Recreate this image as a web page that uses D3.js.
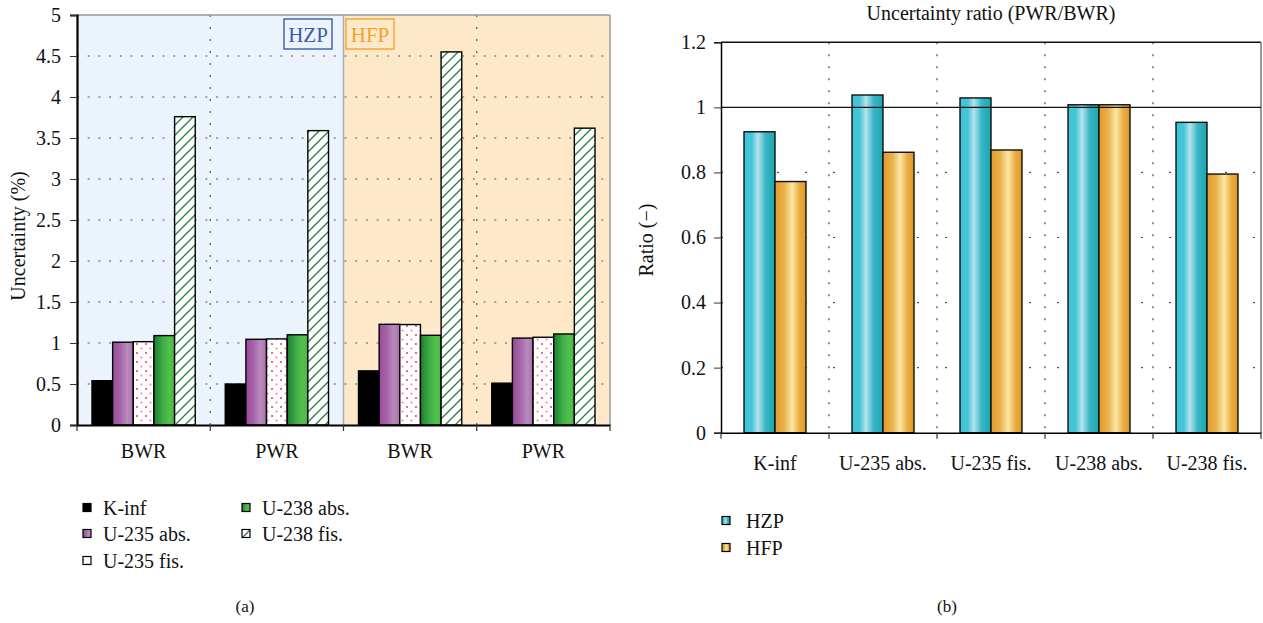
<!DOCTYPE html>
<html><head><meta charset="utf-8">
<script src="https://cdn.jsdelivr.net/npm/d3@7"></script>
<style>
html,body{margin:0;padding:0;background:#fff;}
svg text{font-family:"Liberation Serif","DejaVu Serif",serif;fill:#111;}
</style></head>
<body>
<svg id="c" width="1263" height="623"></svg>
<script>
// ---------- data ----------
const leftGroups = ["BWR", "PWR", "BWR", "PWR"];
const leftStates = ["HZP", "HZP", "HFP", "HFP"];
const leftSeries = ["K-inf", "U-235 abs.", "U-235 fis.", "U-238 abs.", "U-238 fis."];
const kinf    = [0.54, 0.50, 0.66, 0.51];
const u235abs = [1.01, 1.045, 1.228, 1.06];
const u235fis = [1.016, 1.05, 1.225, 1.07];
const u238abs = [1.09, 1.10, 1.094, 1.11];
const u238fis = [3.76, 3.59, 4.55, 3.62];
const leftTicks = [0, 0.5, 1, 1.5, 2, 2.5, 3, 3.5, 4, 4.5, 5];

const ratioCats = ["K-inf", "U-235 abs.", "U-235 fis.", "U-238 abs.", "U-238 fis."];
const ratioSeries = ["HZP", "HFP"];
const hzp = [0.925, 1.038, 1.029, 1.008, 0.954];
const hfp = [0.772, 0.862, 0.869, 1.008, 0.795];
const rightTicks = [0, 0.2, 0.4, 0.6, 0.8, 1, 1.2];

// ---------- setup ----------
const FS = 20;
const svg = d3.select("#c");
const defs = svg.append("defs");
function grad(id, stops){
  const g = defs.append("linearGradient").attr("id", id).attr("x1","0").attr("x2","1").attr("y1","0").attr("y2","0");
  stops.forEach(s => g.append("stop").attr("offset", s[0]).attr("stop-color", s[1]));
}
grad("gPurple", [[0,"#994a9b"],[0.35,"#a463a6"],[0.72,"#b98bbd"],[1,"#a86fab"]]);
grad("gGreen", [[0,"#1d7f33"],[0.45,"#3fae45"],[0.75,"#53c04c"],[1,"#4ab848"]]);
grad("gCyan", [[0,"#3ec3d6"],[0.25,"#45c6d8"],[0.45,"#b5e3ec"],[0.7,"#35b6c6"],[1,"#1ea4b0"]]);
grad("gOrange", [[0,"#e0992a"],[0.3,"#eab24a"],[0.55,"#fbe7a6"],[0.8,"#e8aa3c"],[1,"#de9a2c"]]);
// dots
const pd = defs.append("pattern").attr("id","pDots").attr("patternUnits","userSpaceOnUse").attr("width",9).attr("height",9);
pd.append("rect").attr("width",9).attr("height",9).attr("fill","#fff");
pd.append("rect").attr("x",1).attr("y",1).attr("width",2).attr("height",2).attr("fill","#ef6a8c");
pd.append("rect").attr("x",5.5).attr("y",5.5).attr("width",2).attr("height",2).attr("fill","#f39ab2");
// hatch
const ph = defs.append("pattern").attr("id","pHatch").attr("patternUnits","userSpaceOnUse").attr("width",10).attr("height",10);
ph.append("rect").attr("width",10).attr("height",10).attr("fill","#fff");
ph.append("path").attr("d","M-2,12 L12,-2 M-2,2 L2,-2 M8,12 L12,8").attr("stroke","#2a7a43").attr("stroke-width",1.3);

const leftFills = ["#000", "url(#gPurple)", "url(#pDots)", "url(#gGreen)", "url(#pHatch)"];
const rightFills = ["url(#gCyan)", "url(#gOrange)"];

// ---------- left chart ----------
const L = {x0:77, x1:610, yT:15, yB:425};
const xL = d3.scaleBand().domain(d3.range(leftGroups.length)).range([L.x0, L.x1]);
const xLi = d3.scaleBand().domain(leftSeries).range([15, xL.bandwidth()-15]);
const yL = d3.scaleLinear().domain([0,5]).range([L.yB, L.yT]);
const gl = svg.append("g");

// backgrounds
gl.append("rect").attr("x", xL(0)).attr("y", L.yT).attr("width", xL(2)-xL(0)).attr("height", L.yB-L.yT).attr("fill","#ebf4fc");
gl.append("rect").attr("x", xL(2)).attr("y", L.yT).attr("width", L.x1-xL(2)).attr("height", L.yB-L.yT).attr("fill","#fde9c9");
// grid
gl.selectAll("line.hg").data(leftTicks.slice(1,-1)).join("line")
  .attr("x1", L.x0).attr("x2", L.x1).attr("y1", d=>yL(d)).attr("y2", d=>yL(d))
  .attr("stroke","#555").attr("stroke-width",1.2).attr("stroke-dasharray","2,8.7");
gl.selectAll("line.vg").data([1,3]).join("line")
  .attr("x1", d=>xL(d)).attr("x2", d=>xL(d)).attr("y1", L.yT).attr("y2", L.yB)
  .attr("stroke","#555").attr("stroke-width",1.2).attr("stroke-dasharray","2,10");
gl.append("line").attr("x1", xL(2)).attr("x2", xL(2)).attr("y1", L.yT).attr("y2", L.yB).attr("stroke","#a7adb4").attr("stroke-width",1.5);
gl.append("line").attr("x1", L.x0).attr("x2", L.x1).attr("y1", L.yT).attr("y2", L.yT).attr("stroke","#999").attr("stroke-width",1.5);
gl.append("line").attr("x1", L.x1).attr("x2", L.x1).attr("y1", L.yT).attr("y2", L.yB).attr("stroke","#999").attr("stroke-width",1.5);

// bars
const leftVals = [kinf, u235abs, u235fis, u238abs, u238fis];
leftGroups.forEach((g, gi) => {
  leftSeries.forEach((s, si) => {
    const v = leftVals[si][gi];
    gl.append("rect")
      .attr("x", xL(gi) + xLi(s)).attr("y", yL(v))
      .attr("width", xLi.bandwidth()).attr("height", yL(0) - yL(v))
      .attr("fill", leftFills[si]).attr("stroke","#000").attr("stroke-width",1.4);
  });
});

// axes
const yAxL = gl.append("g").attr("transform", `translate(${L.x0},0)`)
  .call(d3.axisLeft(yL).tickValues(leftTicks).tickFormat(d3.format("~g")).tickSize(7).tickPadding(9));
yAxL.select(".domain").attr("stroke","#000").attr("stroke-width",2.2);
yAxL.selectAll(".tick line").attr("stroke","#333").attr("stroke-width",1);
yAxL.selectAll(".tick text").attr("font-size",FS).attr("font-family","Liberation Serif");
const xAxL = gl.append("g").attr("transform", `translate(0,${L.yB})`)
  .call(d3.axisBottom(xL).tickValues([]).tickSizeOuter(0));
xAxL.select(".domain").attr("stroke","#000").attr("stroke-width",2.2);
gl.selectAll("line.xt").data(d3.range(leftGroups.length+1)).join("line")
  .attr("x1", d => d<leftGroups.length ? xL(d) : L.x1).attr("x2", d => d<leftGroups.length ? xL(d) : L.x1)
  .attr("y1", L.yB).attr("y2", L.yB+6).attr("stroke","#333").attr("stroke-width",1.2);
gl.selectAll("text.xl").data(leftGroups).join("text")
  .attr("x", (d,i)=>xL(i)+xL.bandwidth()/2).attr("y", 458).attr("text-anchor","middle")
  .attr("font-size",FS).text(d=>d);
gl.append("text").attr("transform","translate(25,236) rotate(-90)").attr("text-anchor","middle")
  .attr("font-size",FS).text("Uncertainty (%)");

// state labels
const boxes = [{t:leftStates[0], x:284, c:"#3d5aa8"}, {t:leftStates[2], x:346, c:"#f4a12c"}];
boxes.forEach(b => {
  gl.append("rect").attr("x", b.x).attr("y", 19).attr("width", 48).attr("height", 30)
    .attr("fill","none").attr("stroke", b.c).attr("stroke-width",1.4);
  gl.append("text").attr("x", b.x+24).attr("y", 41.5).attr("text-anchor","middle")
    .attr("font-size",21).style("fill", b.c).text(b.t);
});

// left legend
const legPos = [[83,508],[83,534],[83,561],[242,508],[242,534]];
leftSeries.forEach((s,i) => {
  const [lx, ly] = legPos[i];
  gl.append("rect").attr("x", lx).attr("y", ly-4.5).attr("width",8).attr("height",8)
    .attr("fill", leftFills[i]).attr("stroke","#000").attr("stroke-width",1.2);
  gl.append("text").attr("x", lx+20).attr("y", ly+6.5).attr("font-size",FS).text(s);
});

// ---------- right chart ----------
const R = {x0:721, x1:1261, yT:42.3, yB:432.7};
const xR = d3.scaleBand().domain(ratioCats).range([R.x0, R.x1]);
const xRi = d3.scaleBand().domain(ratioSeries).range([23, xR.bandwidth()-23]);
const yR = d3.scaleLinear().domain([0,1.2]).range([R.yB, R.yT]);
const gr = svg.append("g");

gr.selectAll("line.hg").data(rightTicks.slice(1,-2)).join("line")
  .attr("x1", R.x0).attr("x2", R.x1).attr("y1", d=>yR(d)).attr("y2", d=>yR(d))
  .attr("stroke","#555").attr("stroke-width",1.2).attr("stroke-dasharray","2,26");
gr.selectAll("line.vg").data(ratioCats.slice(1)).join("line")
  .attr("x1", d=>xR(d)).attr("x2", d=>xR(d)).attr("y1", R.yT).attr("y2", R.yB)
  .attr("stroke","#444").attr("stroke-width",1.2).attr("stroke-dasharray","2,10");
gr.append("line").attr("x1", R.x0).attr("x2", R.x1).attr("y1", R.yT).attr("y2", R.yT).attr("stroke","#111").attr("stroke-width",1.5);
gr.append("line").attr("x1", R.x1).attr("x2", R.x1).attr("y1", R.yT).attr("y2", R.yB).attr("stroke","#777").attr("stroke-width",1.5);

const rightVals = [hzp, hfp];
ratioCats.forEach((c, ci) => {
  ratioSeries.forEach((s, si) => {
    const v = rightVals[si][ci];
    gr.append("rect")
      .attr("x", xR(c) + xRi(s)).attr("y", yR(v))
      .attr("width", xRi.bandwidth()).attr("height", yR(0)-yR(v))
      .attr("fill", rightFills[si]).attr("stroke","#111").attr("stroke-width",1.4);
  });
});
// reference line at 1
gr.append("line").attr("x1", R.x0).attr("x2", R.x1).attr("y1", yR(1)).attr("y2", yR(1)).attr("stroke","#111").attr("stroke-width",1.3);

const yAxR = gr.append("g").attr("transform", `translate(${R.x0},0)`)
  .call(d3.axisLeft(yR).tickValues(rightTicks).tickFormat(d3.format("~g")).tickSize(7).tickPadding(8));
yAxR.select(".domain").attr("stroke","#000").attr("stroke-width",1.5);
yAxR.selectAll(".tick line").attr("stroke","#333");
yAxR.selectAll(".tick text").attr("font-size",FS).attr("font-family","Liberation Serif");
const xAxR = gr.append("g").attr("transform", `translate(0,${R.yB})`)
  .call(d3.axisBottom(xR).tickValues([]).tickSizeOuter(0));
xAxR.select(".domain").attr("stroke","#000").attr("stroke-width",1.5);
gr.selectAll("line.xt").data(d3.range(ratioCats.length+1)).join("line")
  .attr("x1", d => d<ratioCats.length ? xR(ratioCats[d]) : R.x1).attr("x2", d => d<ratioCats.length ? xR(ratioCats[d]) : R.x1)
  .attr("y1", R.yB).attr("y2", R.yB+6).attr("stroke","#333").attr("stroke-width",1.2);
gr.selectAll("text.xl").data(ratioCats).join("text")
  .attr("x", d=>xR(d)+xR.bandwidth()/2).attr("y", 470).attr("text-anchor","middle")
  .attr("font-size",FS).text(d=>d);
gr.append("text").attr("transform","translate(653,240) rotate(-90)").attr("text-anchor","middle")
  .attr("font-size",FS).text("Ratio (\u2212)");
gr.append("text").attr("x", 991).attr("y", 20).attr("text-anchor","middle")
  .attr("font-size",FS).text("Uncertainty ratio (PWR/BWR)");

ratioSeries.forEach((s,i) => {
  const ly = 521 + i*27;
  gr.append("rect").attr("x", 722).attr("y", ly-4.5).attr("width",8).attr("height",8)
    .attr("fill", rightFills[i]).attr("stroke","#000").attr("stroke-width",1.2);
  gr.append("text").attr("x", 746).attr("y", ly+6.5).attr("font-size",FS).text(s);
});

// captions
svg.append("text").attr("x",245).attr("y",612).attr("text-anchor","middle").attr("font-size",17).text("(a)");
svg.append("text").attr("x",947).attr("y",612).attr("text-anchor","middle").attr("font-size",17).text("(b)");
</script>
</body></html>
